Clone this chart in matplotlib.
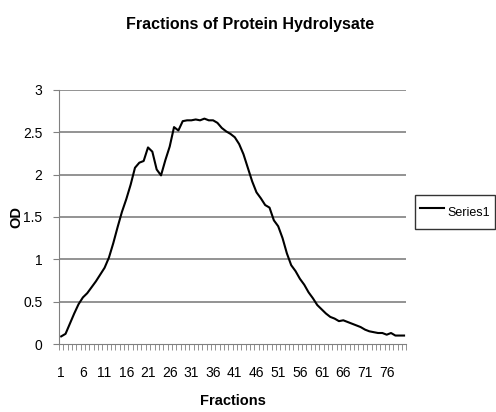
import numpy as np
import matplotlib
matplotlib.use('Agg')
import matplotlib.pyplot as plt

# Data
fractions = np.arange(1, 81)
od = [0.09, 0.12, 0.24, 0.36, 0.47, 0.55, 0.60, 0.67, 0.74, 0.82,
      0.90, 1.02, 1.19, 1.38, 1.56, 1.71, 1.88, 2.08, 2.14, 2.16,
      2.32, 2.27, 2.06, 1.99, 2.17, 2.33, 2.56, 2.52, 2.63, 2.64,
      2.64, 2.65, 2.64, 2.66, 2.64, 2.64, 2.61, 2.55, 2.51, 2.48,
      2.44, 2.36, 2.24, 2.08, 1.92, 1.79, 1.72, 1.64, 1.61, 1.46,
      1.39, 1.25, 1.07, 0.93, 0.86, 0.77, 0.70, 0.61, 0.54, 0.46,
      0.41, 0.36, 0.32, 0.30, 0.27, 0.28, 0.26, 0.24, 0.22, 0.20,
      0.17, 0.15, 0.14, 0.13, 0.13, 0.11, 0.13, 0.10, 0.10, 0.10]
x_tick_labels = [str(v) for v in range(1, 80, 5)]
y_ticks = [0, 0.5, 1, 1.5, 2, 2.5, 3]

plt.rcParams['font.family'] = ['Liberation Sans', 'DejaVu Sans']

fig = plt.figure(figsize=(4.96, 4.12), dpi=100)
ax = fig.add_axes([0.119, 0.165, 0.700, 0.617])

ax.plot(fractions, od, color='black', linewidth=1.5, label='Series1')

ax.set_xlim(0.5, len(fractions) + 0.5)
ax.set_ylim(0, 3)

# horizontal gridlines like Excel
for y in y_ticks[1:]:
    ax.axhline(y, color='#808080', linewidth=1.2, zorder=0)

ax.set_yticks(y_ticks)
ax.set_yticklabels(['0', '0.5', '1', '1.5', '2', '2.5', '3'], fontsize=10)
ax.set_xticks([int(v) for v in x_tick_labels])
ax.set_xticklabels(x_tick_labels, fontsize=10)
ax.tick_params(axis='x', length=0, pad=16)
ax.set_xticks(np.arange(0.5, len(fractions) + 1, 1), minor=True)
ax.tick_params(axis='x', which='minor', length=4, color='#808080')
ax.tick_params(axis='y', length=4, color='#808080', pad=8)

for side in ['top', 'right']:
    ax.spines[side].set_visible(False)
ax.spines['left'].set_color('#808080')
ax.spines['bottom'].set_color('#808080')

ax.set_xlabel('Fractions', fontsize=10.5, fontweight='bold', labelpad=10)
ax.set_ylabel('OD', fontsize=10.5, fontweight='bold')
ax.yaxis.label.set_va('center')
ax.yaxis.set_label_coords(-0.124, 0.5)
fig.text(0.504, 0.940, 'Fractions of Protein Hydrolysate', fontsize=11.5,
         fontweight='bold', ha='center', va='center')

leg = ax.legend(loc='center left', bbox_to_anchor=(1.025, 0.52), fontsize=9,
                frameon=True, fancybox=False, edgecolor='black',
                handlelength=1.9, handleheight=2.6, handletextpad=0.3,
                borderpad=0.4, borderaxespad=0.0)
leg.get_frame().set_linewidth(1.0)

plt.savefig('out.png', dpi=100)
